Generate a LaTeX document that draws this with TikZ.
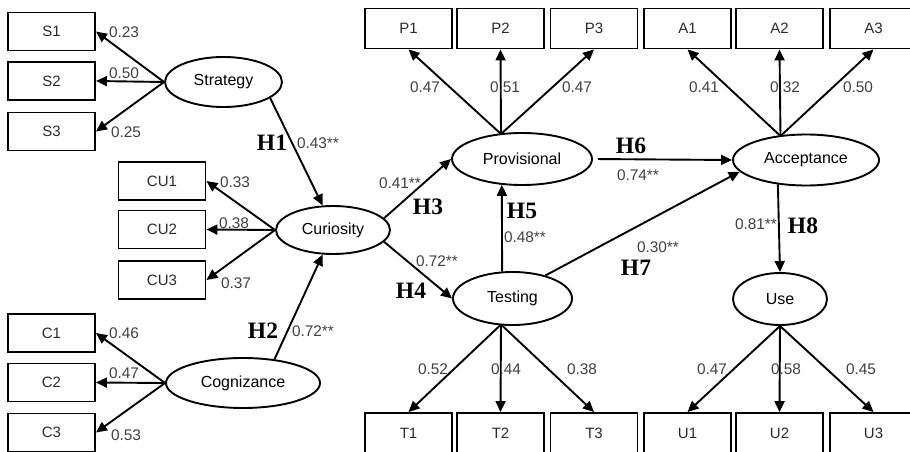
\documentclass[tikz,border=0pt]{standalone}
\usepackage{fontspec}
\setmainfont{Liberation Sans}
\newfontfamily\hfont{Liberation Serif}
\usetikzlibrary{shapes.geometric,arrows.meta}
\definecolor{numgray}{HTML}{404040}
\definecolor{txtgray}{HTML}{2A2A2A}
\begin{document}
\begin{tikzpicture}[x=1pt,y=-1pt,
  ind/.style={draw,line width=1.9pt,minimum width=87pt,minimum height=38pt,inner sep=0pt,
    font=\fontsize{15}{17}\selectfont,text=txtgray},
  indt/.style={ind,minimum height=40pt},
  lat/.style={draw,ellipse,line width=1.9pt,inner sep=0pt,font=\fontsize{16}{18}\selectfont},
  num/.style={font=\fontsize{15.4}{17}\selectfont,text=numgray,inner sep=0pt},
  hyp/.style={font=\hfont\bfseries\fontsize{23.5}{25}\selectfont,inner sep=0pt},
  arr/.style={line width=1.9pt,-{Triangle[length=11pt,width=10pt]}}]
\useasboundingbox (0,0) rectangle (910,452);
% indicator boxes, left
\node[ind] (s1) at (51.5,31.5) {S1};
\node[ind] (s2) at (51.5,81) {S2};
\node[ind] (s3) at (51.5,131.5) {S3};
\node[ind] (cu1) at (162,181) {CU1};
\node[ind] (cu2) at (162,229.5) {CU2};
\node[ind] (cu3) at (162,280) {CU3};
\node[ind] (c1) at (51.5,333) {C1};
\node[ind] (c2) at (51.5,382.5) {C2};
\node[ind] (c3) at (51.5,432.5) {C3};
% indicator boxes, top
\node[indt] (p1) at (408.5,28.5) {P1};
\node[indt] (p2) at (500.5,28.5) {P2};
\node[indt] (p3) at (594,28.5) {P3};
\node[indt] (a1) at (687.5,28.5) {A1};
\node[indt] (a2) at (779.5,28.5) {A2};
\node[indt] (a3) at (873.5,28.5) {A3};
% indicator boxes, bottom
\node[indt] (t1) at (408.5,433) {T1};
\node[indt] (t2) at (500.5,433) {T2};
\node[indt] (t3) at (594,433) {T3};
\node[indt] (u1) at (687.5,433) {U1};
\node[indt] (u2) at (779.5,433) {U2};
\node[indt] (u3) at (873.5,433) {U3};
% latent variables
\node[lat,minimum width=117pt,minimum height=50pt] (strat) at (223.5,82) {Strategy};
\node[lat,minimum width=114pt,minimum height=48pt] (cur) at (333,230) {Curiosity};
\node[lat,minimum width=154pt,minimum height=50pt] (cog) at (243,383) {Cognizance};
\node[lat,minimum width=140pt,minimum height=52pt] (prov) at (522,159) {Provisional};
\node[lat,minimum width=146pt,minimum height=51pt] (acc) at (806,160) {Acceptance};
\node[lat,minimum width=119pt,minimum height=53pt] (test) at (512.5,298.5) {Testing};
\node[lat,minimum width=94pt,minimum height=52pt] (use) at (780,299) {Use};
% measurement arrows
\coordinate (pv) at (501,134);
\coordinate (ac) at (780.5,136);
\coordinate (tb) at (501,324.5);
\draw[arr] (strat.west) -- (s1.east);
\draw[arr] (strat.west) -- (s2.east);
\draw[arr] (strat.west) -- (s3.east);
\draw[arr] (cur.west) -- (cu1.east);
\draw[arr] (cur.west) -- (cu2.east);
\draw[arr] (cur.west) -- (cu3.east);
\draw[arr] (cog.west) -- (c1.east);
\draw[arr] (cog.west) -- (c2.east);
\draw[arr] (cog.west) -- (c3.east);
\draw[arr] (pv) -- (p1.south);
\draw[arr] (pv) -- (p2.south);
\draw[arr] (pv) -- (p3.south);
\draw[arr] (ac) -- (a1.south);
\draw[arr] (ac) -- (a2.south);
\draw[arr] (ac) -- (a3.south);
\draw[arr] (tb) -- (t1.north);
\draw[arr] (tb) -- (t2.north);
\draw[arr] (tb) -- (t3.north);
\draw[arr] (use.south) -- (u1.north);
\draw[arr] (use.south) -- (u2.north);
\draw[arr] (use.south) -- (u3.north);
% structural arrows
\draw[arr] (strat.-19) -- (cur.113);
\draw[arr] (cog.37) -- (cur.-113);
\draw[arr] (cur.13) -- (prov.west);
\draw[arr] (cur.-13) -- (test.west);
\draw[arr] (test.111) -- (prov.232);
\draw[arr,shorten <=5pt] (prov.east) -- (acc.west);
\draw[arr] (test.35) -- (acc.190);
\draw[arr] (acc.221) -- (use.north);
% loadings
\node[num] (ls1) at (124,32) {0.23};
\node[num] (ls2) at (124,73) {0.50};
\node[num] (ls3) at (126,132) {0.25};
\node[num] (lcu1) at (235,182) {0.33};
\node[num] (lcu2) at (234,223) {0.38};
\node[num] (lcu3) at (236,283) {0.37};
\node[num] (lc1) at (124,333) {0.46};
\node[num] (lc2) at (124,373) {0.47};
\node[num] (lc3) at (126,435) {0.53};
\node[num] (lp1) at (425,87) {0.47};
\node[num] (lp2) at (505,87) {0.51};
\node[num] (lp3) at (577,87) {0.47};
\node[num] (la1) at (704,87) {0.41};
\node[num] (la2) at (785,87) {0.32};
\node[num] (la3) at (858,87) {0.50};
\node[num] (lt1) at (433,369) {0.52};
\node[num] (lt2) at (506,369) {0.44};
\node[num] (lt3) at (582,369) {0.38};
\node[num] (lu1) at (712,369) {0.47};
\node[num] (lu2) at (786,369) {0.58};
\node[num] (lu3) at (861,369) {0.45};
% path coefficients
\node[num] (k1) at (318,143) {0.43**};
\node[num] (k2) at (313,331) {0.72**};
\node[num] (k3) at (400,183) {0.41**};
\node[num] (k4) at (437,261) {0.72**};
\node[num] (k5) at (525,237) {0.48**};
\node[num] (k6) at (638,175) {0.74**};
\node[num] (k7) at (658,247) {0.30**};
\node[num] (k8) at (756,224) {0.81**};
% hypotheses
\node[hyp] (h1) at (272,143) {H1};
\node[hyp] (h2) at (263,331) {H2};
\node[hyp] (h3) at (428,207) {H3};
\node[hyp] (h4) at (411,291) {H4};
\node[hyp] (h5) at (522,211) {H5};
\node[hyp] (h6) at (631,146) {H6};
\node[hyp] (h7) at (636,268) {H7};
\node[hyp] (h8) at (803,226) {H8};
\end{tikzpicture}
\end{document}
